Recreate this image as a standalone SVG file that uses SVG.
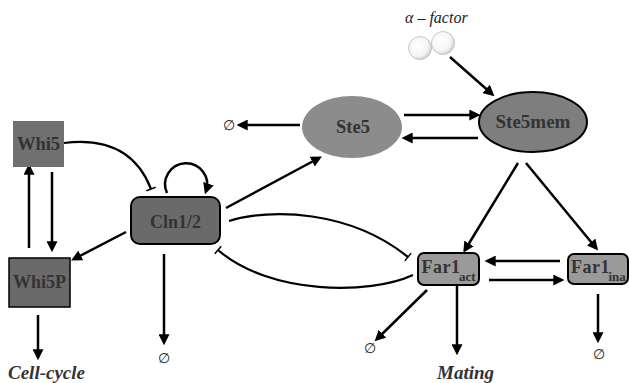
<svg xmlns="http://www.w3.org/2000/svg" width="629" height="383" viewBox="0 0 629 383">
<defs>
<marker id="ah" viewBox="0 0 10 10" refX="7" refY="5" markerWidth="11" markerHeight="11" markerUnits="userSpaceOnUse" orient="auto">
<path d="M0,0 L10,5 L0,10 z" fill="#000"/>
</marker>
<marker id="tee" viewBox="-2 -6 4 12" refX="0" refY="0" markerWidth="4" markerHeight="12" markerUnits="userSpaceOnUse" orient="auto">
<line x1="0" y1="-5" x2="0" y2="5" stroke="#000" stroke-width="1.5"/>
</marker>
<radialGradient id="ball" cx="0.4" cy="0.4" r="0.65">
<stop offset="0" stop-color="#ffffff"/>
<stop offset="0.7" stop-color="#f4f4f4"/>
<stop offset="1" stop-color="#c8c8c8"/>
</radialGradient>
</defs>
<style>
.lbl{font-family:"Liberation Serif","DejaVu Serif","Times New Roman",serif;font-weight:bold;fill:#333;text-anchor:middle}
.sub{font-family:"Liberation Serif","DejaVu Serif","Times New Roman",serif;font-weight:bold;fill:#333}
.out{font-family:"Liberation Serif","DejaVu Serif","Times New Roman",serif;font-weight:bold;font-style:italic;fill:#333;font-size:19px}
.nul{font-family:"Liberation Sans","DejaVu Sans",sans-serif;font-size:14px;fill:#222;text-anchor:middle}
.a{fill:none;stroke:#000;stroke-width:2.5;marker-end:url(#ah)}
.i{fill:none;stroke:#000;stroke-width:2.2;marker-end:url(#tee)}
</style>
<rect width="629" height="383" fill="#fff"/>

<g id="alpha">
<text x="405" y="23" font-family="Liberation Serif,DejaVu Serif,serif" font-style="italic" font-size="16" fill="#222">α – factor</text>
<circle cx="420" cy="48" r="11.5" fill="url(#ball)" stroke="#bbb" stroke-width="0.8"/>
<circle cx="443" cy="43" r="11.5" fill="url(#ball)" stroke="#bbb" stroke-width="0.8"/>
</g>

<g id="connectors">
<line class="a" x1="450" y1="57" x2="492" y2="94"/>
<line class="a" x1="404" y1="115" x2="477" y2="115"/>
<line class="a" x1="478" y1="138" x2="405" y2="138"/>
<line class="a" x1="300" y1="125" x2="240" y2="125"/>
<line class="a" x1="226" y1="208" x2="319" y2="158"/>
<line class="a" x1="518" y1="163" x2="465" y2="250"/>
<line class="a" x1="526" y1="163" x2="596" y2="248"/>
<line class="a" x1="560" y1="261" x2="488" y2="261"/>
<line class="a" x1="489" y1="280" x2="561" y2="280"/>
<line class="a" x1="427" y1="290" x2="377" y2="339"/>
<line class="a" x1="457" y1="285" x2="457" y2="352"/>
<line class="a" x1="598" y1="294" x2="598" y2="340"/>
<line class="a" x1="126" y1="232" x2="74" y2="259"/>
<line class="a" x1="29" y1="248" x2="29" y2="167"/>
<line class="a" x1="52" y1="172" x2="52" y2="249"/>
<line class="a" x1="38" y1="315" x2="38" y2="357"/>
<line class="a" x1="164" y1="254" x2="164" y2="342"/>
<path class="a" d="M167,193 A21,21 0 1 1 206,191"/>
<path class="i" d="M64,143 Q130,135 151,189"/>
<path class="i" d="M229,221 C270,208 350,210 408,257"/>
<path class="i" d="M413,275 C370,295 270,295 218,250"/>
</g>

<g id="Whi5">
<rect x="13" y="121" width="51" height="46" fill="#707070"/>
<text class="lbl" x="38.5" y="150" font-size="18.5">Whi5</text>
</g>
<g id="Whi5P">
<rect x="9" y="258" width="61" height="49" fill="#6a6a6a" stroke="#000" stroke-width="1.5"/>
<text class="lbl" x="39.5" y="288" font-size="18">Whi5P</text>
</g>
<g id="Cln12">
<rect x="131" y="197" width="89" height="47" rx="9" fill="#6a6a6a" stroke="#000" stroke-width="2"/>
<text class="lbl" x="175.5" y="228" font-size="18">Cln1/2</text>
</g>
<g id="Ste5">
<ellipse cx="352" cy="127" rx="50" ry="31" fill="#8c8c8c"/>
<text class="lbl" x="353" y="133" font-size="18.5">Ste5</text>
</g>
<g id="Ste5mem">
<ellipse cx="533" cy="122" rx="54" ry="30" fill="#7e7e7e" stroke="#000" stroke-width="2"/>
<text class="lbl" x="533" y="128" font-size="19">Ste5mem</text>
</g>
<g id="Far1act">
<rect x="418" y="253" width="61" height="32" rx="6" fill="#9a9a9a" stroke="#000" stroke-width="2"/>
<text class="sub" x="421.5" y="273" font-size="18" letter-spacing="0.5">Far1</text>
<text class="sub" x="459" y="281" font-size="13">act</text>
</g>
<g id="Far1ina">
<rect x="568" y="254" width="60" height="30" rx="6" fill="#9a9a9a" stroke="#000" stroke-width="2"/>
<text class="sub" x="571" y="273" font-size="18" letter-spacing="0.5">Far1</text>
<text class="sub" x="608.5" y="281" font-size="13">ina</text>
</g>

<g id="labels">
<text class="nul" x="229" y="130">∅</text>
<text class="nul" x="164" y="363">∅</text>
<text class="nul" x="370" y="353">∅</text>
<text class="nul" x="599" y="359">∅</text>
<text class="out" x="8" y="379">Cell-cycle</text>
<text class="out" x="437" y="379">Mating</text>
</g>
</svg>
